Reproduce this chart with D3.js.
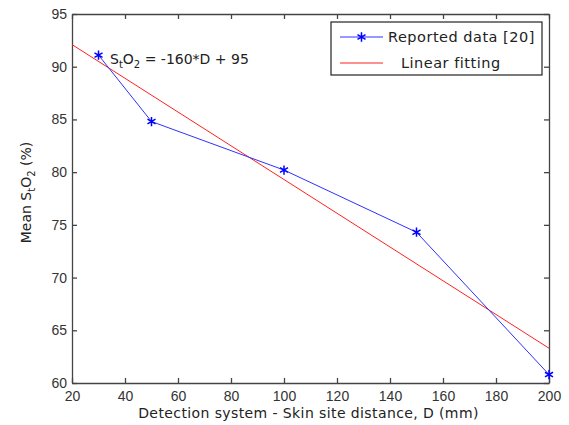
<!DOCTYPE html>
<html>
<head>
<meta charset="utf-8">
<script src="https://cdn.jsdelivr.net/npm/d3@7"></script>
<style>
  body { margin: 0; background: #fff; }
  svg { display: block; font-family: 'DejaVu Sans', sans-serif; }
  .axis text { font-size: 14px; fill: #333; }
  .axis path, .axis line { stroke: #444; stroke-width: 1.3; }
</style>
</head>
<body>
<svg width="569" height="425"></svg>
<script>
// Reported data [20]
const distance = [30, 50, 100, 150, 200];
const meanSaturation = [91.1, 84.8, 80.2, 74.3, 60.8];

// Linear fitting, end points
const fitDistance = [20, 200];
const fitSaturation = [92.1, 63.3];

const xTicks = [20, 40, 60, 80, 100, 120, 140, 160, 180, 200];
const yTicks = [60, 65, 70, 75, 80, 85, 90, 95];

const svg = d3.select('svg');
const margin = {top: 14, right: 20, bottom: 42, left: 72};
const width = +svg.attr('width');
const height = +svg.attr('height');
const plotW = width - margin.left - margin.right;
const plotH = height - margin.top - margin.bottom;

const x = d3.scaleLinear().domain([20, 200]).range([margin.left, margin.left + plotW]);
const y = d3.scaleLinear().domain([60, 95]).range([margin.top + plotH, margin.top]);

// axes: ticks point inwards, box on all four sides
svg.append('g')
  .attr('class', 'axis')
  .attr('transform', `translate(0,${margin.top + plotH})`)
  .call(d3.axisBottom(x).tickValues(xTicks).tickSize(-5).tickPadding(7).tickSizeOuter(0))
  .call((g) => g.selectAll('text').attr('dy', '0.75em'));

svg.append('g')
  .attr('class', 'axis')
  .attr('transform', `translate(${margin.left},0)`)
  .call(d3.axisLeft(y).tickValues(yTicks).tickSize(-5).tickPadding(5).tickSizeOuter(0));

svg.append('g')
  .attr('class', 'axis')
  .attr('transform', `translate(0,${margin.top})`)
  .call(d3.axisTop(x).tickValues(xTicks).tickSize(-5).tickFormat('').tickSizeOuter(0));

svg.append('g')
  .attr('class', 'axis')
  .attr('transform', `translate(${margin.left + plotW},0)`)
  .call(d3.axisRight(y).tickValues(yTicks).tickSize(-5).tickFormat('').tickSizeOuter(0));

// fitted line
const fitLine = d3.line().x((d, i) => x(fitDistance[i])).y((d) => y(d));
svg.append('path')
  .attr('d', fitLine(fitSaturation))
  .attr('fill', 'none')
  .attr('stroke', '#ff2020')
  .attr('stroke-width', 1);

// reported data
const dataLine = d3.line().x((d, i) => x(distance[i])).y((d) => y(d));
svg.append('path')
  .attr('d', dataLine(meanSaturation))
  .attr('fill', 'none')
  .attr('stroke', '#3030ff')
  .attr('stroke-width', 1);

const star = d3.symbol().type(d3.symbolAsterisk).size(60);
svg.selectAll('.marker')
  .data(meanSaturation)
  .enter()
  .append('path')
  .attr('class', 'marker')
  .attr('transform', (d, i) => `translate(${x(distance[i])},${y(d)})`)
  .attr('d', star)
  .attr('fill', 'none')
  .attr('stroke', '#0000ff')
  .attr('stroke-width', 1.5);

// equation annotation
const eq = svg.append('text')
  .attr('x', 110)
  .attr('y', y(90.3))
  .attr('font-size', 14)
  .attr('fill', '#222');
eq.append('tspan').text('S');
eq.append('tspan').attr('dy', 4).attr('font-size', 10).text('t');
eq.append('tspan').attr('dy', -4).text('O');
eq.append('tspan').attr('dy', 4).attr('font-size', 10).text('2');
eq.append('tspan').attr('dy', -4).text(' = -160*D + 95');

// axis titles
svg.append('text')
  .attr('x', margin.left + plotW / 2 - 2)
  .attr('y', 418)
  .attr('text-anchor', 'middle')
  .attr('font-size', 14)
  .attr('letter-spacing', 0.4)
  .attr('fill', '#222')
  .text('Detection system - Skin site distance, D (mm)');

const yl = svg.append('text')
  .attr('transform', `translate(31,${margin.top + plotH / 2 - 6}) rotate(-90)`)
  .attr('text-anchor', 'middle')
  .attr('font-size', 14)
  .attr('fill', '#222');
yl.append('tspan').text('Mean S');
yl.append('tspan').attr('dy', 4).attr('font-size', 10).text('t');
yl.append('tspan').attr('dy', -4).text('O');
yl.append('tspan').attr('dy', 4).attr('font-size', 10).text('2');
yl.append('tspan').attr('dy', -4).text(' (%)');

// legend
const legend = svg.append('g').attr('transform', 'translate(331,22)');
legend.append('rect')
  .attr('width', 211)
  .attr('height', 53)
  .attr('fill', '#fff')
  .attr('stroke', '#222')
  .attr('stroke-width', 1.2);
legend.append('line')
  .attr('x1', 9).attr('x2', 52).attr('y1', 15).attr('y2', 15)
  .attr('stroke', '#3030ff');
legend.append('path')
  .attr('transform', 'translate(30.5,15)')
  .attr('d', star)
  .attr('fill', 'none')
  .attr('stroke', '#0000ff')
  .attr('stroke-width', 1.5);
legend.append('text')
  .attr('x', 57).attr('y', 20)
  .attr('font-size', 14.5)
  .attr('letter-spacing', 0.5)
  .attr('fill', '#222')
  .text('Reported data [20]');
legend.append('line')
  .attr('x1', 9).attr('x2', 52).attr('y1', 41).attr('y2', 41)
  .attr('stroke', '#ff2020');
legend.append('text')
  .attr('x', 70).attr('y', 46)
  .attr('font-size', 14.5)
  .attr('letter-spacing', 0.5)
  .attr('fill', '#222')
  .text('Linear fitting');
</script>
</body>
</html>
